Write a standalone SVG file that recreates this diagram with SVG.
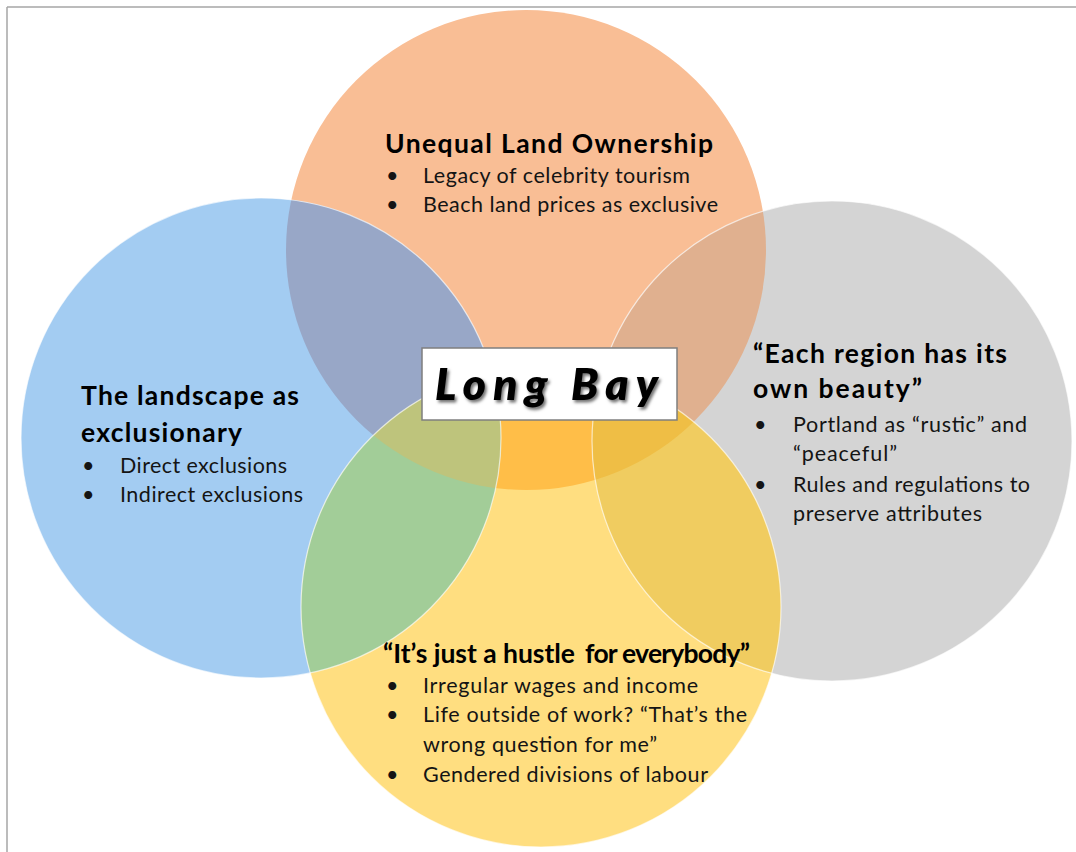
<svg xmlns="http://www.w3.org/2000/svg" width="1076" height="852" viewBox="0 0 1076 852">
  <defs>
    <style>
      .head { font-family: Lato, "Liberation Sans", sans-serif; font-weight: 700; font-size: 26.5px; fill: #000; }
      .body { font-family: Lato, "Liberation Sans", sans-serif; font-size: 21.5px; fill: #141414; }
      .title { font-family: Lato, "Liberation Sans", sans-serif; font-weight: 800; font-style: italic; font-size: 44px; fill: #000; }
      .edge { fill: none; stroke: #fff; stroke-opacity: 0.65; stroke-width: 1.2; }
    </style>
    <circle id="c-land" cx="526" cy="250" r="240"/>
    <circle id="c-landscape" cx="261" cy="438" r="240"/>
    <circle id="c-region" cx="832" cy="441" r="240"/>
    <circle id="c-hustle" cx="541" cy="607" r="240"/>
    <clipPath id="clip-land"><use href="#c-land"/></clipPath>
    <clipPath id="clip-landscape"><use href="#c-landscape"/></clipPath>
    <clipPath id="clip-region"><use href="#c-region"/></clipPath>
    <filter id="soft-shadow" x="-10%" y="-30%" width="120%" height="160%">
      <feDropShadow dx="2" dy="2.5" stdDeviation="1.6" flood-color="#000" flood-opacity="0.55"/>
    </filter>
  </defs>

  <!-- page frame -->
  <g id="frame" stroke="#a6a6a6" stroke-width="1.5" fill="none">
    <line x1="7" y1="7" x2="1076" y2="7"/>
    <line x1="7" y1="7" x2="7" y2="852"/>
  </g>

  <!-- base circles -->
  <g id="circles">
    <use href="#c-land" fill="#f9be95"/>
    <use href="#c-landscape" fill="#a3ccf2"/>
    <use href="#c-region" fill="#d4d4d4"/>
    <use href="#c-hustle" fill="#ffde80"/>
  </g>

  <!-- overlap tints -->
  <g id="overlaps">
    <g clip-path="url(#clip-land)">
      <use href="#c-landscape" fill="#98a7c7"/>
      <use href="#c-region" fill="#e0b08f"/>
      <use href="#c-hustle" fill="#ffbe48"/>
    </g>
    <g clip-path="url(#clip-landscape)">
      <use href="#c-hustle" fill="#a2cd98"/>
    </g>
    <g clip-path="url(#clip-region)">
      <use href="#c-hustle" fill="#f0cc60"/>
    </g>
    <g clip-path="url(#clip-land)">
      <g clip-path="url(#clip-landscape)">
        <use href="#c-hustle" fill="#bec47c"/>
      </g>
      <g clip-path="url(#clip-region)">
        <use href="#c-hustle" fill="#efbe45"/>
      </g>
    </g>
  </g>

  <!-- light rims -->
  <g id="rims">
    <use href="#c-landscape" class="edge"/>
    <use href="#c-region" class="edge"/>
    <use href="#c-hustle" class="edge"/>
  </g>

  <g id="node-land-ownership">
    <text class="head" x="385" y="153" textLength="328" lengthAdjust="spacing">Unequal Land Ownership</text>
    <text class="body" x="386" y="183">•</text>
    <text class="body" x="423" y="183" textLength="267" lengthAdjust="spacing">Legacy of celebrity tourism</text>
    <text class="body" x="386" y="212">•</text>
    <text class="body" x="423" y="212" textLength="295" lengthAdjust="spacing">Beach land prices as exclusive</text>
  </g>

  <g id="node-landscape">
    <text class="head" x="81" y="405" textLength="218" lengthAdjust="spacing">The landscape as</text>
    <text class="head" x="81" y="442" textLength="161" lengthAdjust="spacing">exclusionary</text>
    <text class="body" x="82" y="473">•</text>
    <text class="body" x="120" y="473" textLength="167" lengthAdjust="spacing">Direct exclusions</text>
    <text class="body" x="82" y="502">•</text>
    <text class="body" x="120" y="502" textLength="183" lengthAdjust="spacing">Indirect exclusions</text>
  </g>

  <g id="node-region">
    <text class="head" x="753" y="363" textLength="254" lengthAdjust="spacing">“Each region has its</text>
    <text class="head" x="753" y="398" textLength="169" lengthAdjust="spacing">own beauty”</text>
    <text class="body" x="754" y="432">•</text>
    <text class="body" x="793" y="432" textLength="234" lengthAdjust="spacing">Portland as “rustic” and</text>
    <text class="body" x="793" y="461" textLength="104" lengthAdjust="spacing">“peaceful”</text>
    <text class="body" x="754" y="492">•</text>
    <text class="body" x="793" y="492" textLength="237" lengthAdjust="spacing">Rules and regulations to</text>
    <text class="body" x="793" y="521" textLength="189" lengthAdjust="spacing">preserve attributes</text>
  </g>

  <g id="node-hustle">
    <text class="head" y="663"><tspan x="383" textLength="192" lengthAdjust="spacing">“It’s just a hustle</tspan> <tspan x="585" textLength="165" lengthAdjust="spacing">for everybody”</tspan></text>
    <text class="body" x="386" y="693">•</text>
    <text class="body" x="423" y="693" textLength="275" lengthAdjust="spacing">Irregular wages and income</text>
    <text class="body" x="386" y="722">•</text>
    <text class="body" x="423" y="722" textLength="324" lengthAdjust="spacing">Life outside of work? “That’s the</text>
    <text class="body" x="423" y="752" textLength="234" lengthAdjust="spacing">wrong question for me”</text>
    <text class="body" x="386" y="782">•</text>
    <text class="body" x="423" y="782" textLength="285" lengthAdjust="spacing">Gendered divisions of labour</text>
  </g>

  <g id="node-long-bay">
    <rect x="422" y="348" width="255" height="72" fill="#fff" stroke="#7f7f7f" stroke-width="1.5"/>
    <text class="title" x="435" y="400" textLength="223" lengthAdjust="spacing" filter="url(#soft-shadow)">Long Bay</text>
  </g>
</svg>
